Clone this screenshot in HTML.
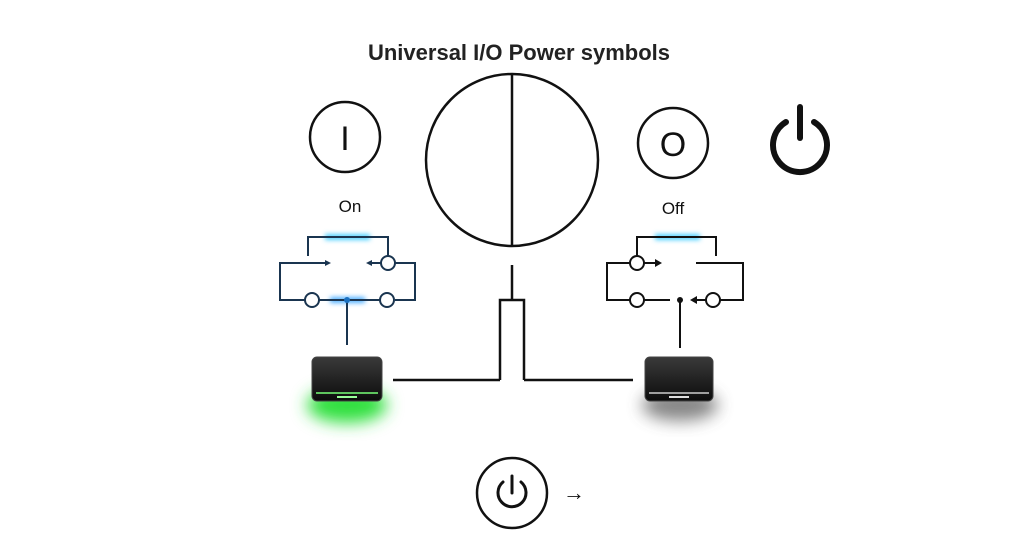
<!DOCTYPE html>
<html><head><style>
body{margin:0;background:#fff;}
svg{display:block;font-family:"Liberation Sans",sans-serif;}
</style></head><body>
<svg width="1024" height="559" viewBox="0 0 1024 559">
<defs>
<filter id="blur" x="-50%" y="-50%" width="200%" height="200%"><feGaussianBlur stdDeviation="8"/></filter>
<filter id="b2" filterUnits="userSpaceOnUse" x="0" y="0" width="1024" height="559"><feGaussianBlur stdDeviation="2.5"/></filter>
<linearGradient id="dev" x1="0" y1="0" x2="0" y2="1"><stop offset="0" stop-color="#3a3a3a"/><stop offset="1" stop-color="#0c0c0c"/></linearGradient>
</defs>
<text x="519" y="60" font-size="22" font-weight="bold" text-anchor="middle" fill="#222">Universal I/O Power symbols</text>
<g fill="none" stroke="#111" stroke-width="2.5">
<circle cx="345" cy="137" r="35"/>
<circle cx="512" cy="160" r="86"/>
<line x1="512" y1="74" x2="512" y2="246"/>
<circle cx="673" cy="143" r="35"/>
<circle cx="512" cy="493" r="35"/>
</g>
<text x="345" y="150" font-size="34" text-anchor="middle" fill="#111">I</text>
<text x="673" y="156" font-size="34" text-anchor="middle" fill="#111">O</text>
<text x="350" y="212" font-size="17" text-anchor="middle" fill="#111">On</text>
<text x="673" y="214" font-size="17" text-anchor="middle" fill="#111">Off</text>
<text x="574" y="500" font-size="22" text-anchor="middle" fill="#111">→</text>
<g fill="none" stroke="#111" stroke-linecap="round">
<path d="M786 122 A27 27 0 1 0 814 122" stroke-width="6"/>
<line x1="800" y1="107" x2="800" y2="138" stroke-width="6"/>
<path d="M503 482 A14 14 0 1 0 521 482" stroke-width="3"/>
<line x1="512" y1="476" x2="512" y2="493" stroke-width="3"/>
</g>
<rect x="325" y="234" width="45" height="6" fill="#4fd0ff" filter="url(#b2)"/>
<rect x="655" y="234" width="45" height="6" fill="#4fd0ff" filter="url(#b2)"/>
<rect x="330" y="297" width="35" height="6" fill="#4fb0ff" filter="url(#b2)"/>
<g fill="none" stroke="#1a3550" stroke-width="2">
<polyline points="308,256 308,237 388,237 388,256"/>
<circle cx="388" cy="263" r="7" fill="#fff"/>
<polyline points="328,263 280,263 280,300 305,300"/>
<line x1="319" y1="300" x2="380" y2="300"/>
<polyline points="395,300 415,300 415,263 395,263"/>
<circle cx="312" cy="300" r="7" fill="#fff"/>
<circle cx="387" cy="300" r="7" fill="#fff"/>
<line x1="381" y1="263" x2="368" y2="263"/>
<line x1="347" y1="300" x2="347" y2="345"/>
</g>
<polygon points="331,263 325,260 325,266" fill="#1a3550"/>
<polygon points="366,263 372,260 372,266" fill="#1a3550"/>
<circle cx="347" cy="300" r="3" fill="#1a70c0"/>
<g fill="none" stroke="#111" stroke-width="2">
<polyline points="637,256 637,237 716,237 716,256"/>
<circle cx="637" cy="263" r="7" fill="#fff"/>
<polyline points="630,263 607,263 607,300 630,300"/>
<line x1="644" y1="263" x2="656" y2="263"/>
<polyline points="696,263 743,263 743,300 720,300"/>
<circle cx="637" cy="300" r="7" fill="#fff"/>
<line x1="644" y1="300" x2="670" y2="300"/>
<circle cx="713" cy="300" r="7" fill="#fff"/>
<line x1="706" y1="300" x2="695" y2="300"/>
<line x1="680" y1="300" x2="680" y2="348"/>
</g>
<polygon points="662,263 655,259 655,267" fill="#111"/>
<polygon points="690,300 697,296 697,304" fill="#111"/>
<circle cx="680" cy="300" r="3" fill="#111"/>
<g fill="none" stroke="#111" stroke-width="2.5">
<line x1="512" y1="265" x2="512" y2="300"/>
<polyline points="500,380 500,300 524,300 524,380"/>
<line x1="393" y1="380" x2="500" y2="380"/>
<line x1="524" y1="380" x2="633" y2="380"/>
</g>
<ellipse cx="347" cy="405" rx="40" ry="18" fill="#30e040" filter="url(#blur)"/>
<ellipse cx="680" cy="405" rx="38" ry="16" fill="#555" filter="url(#blur)" opacity="0.7"/>
<rect x="312" y="357" width="70" height="44" rx="5" fill="url(#dev)" stroke="#444"/>
<line x1="316" y1="393" x2="378" y2="393" stroke="#7f7" stroke-width="1.5"/>
<rect x="337" y="396" width="20" height="2" fill="#9f9"/>
<rect x="645" y="357" width="68" height="44" rx="5" fill="url(#dev)" stroke="#444"/>
<line x1="649" y1="393" x2="709" y2="393" stroke="#ccc" stroke-width="1.5"/>
<rect x="669" y="396" width="20" height="2" fill="#ddd"/>
</svg>
</body></html>
